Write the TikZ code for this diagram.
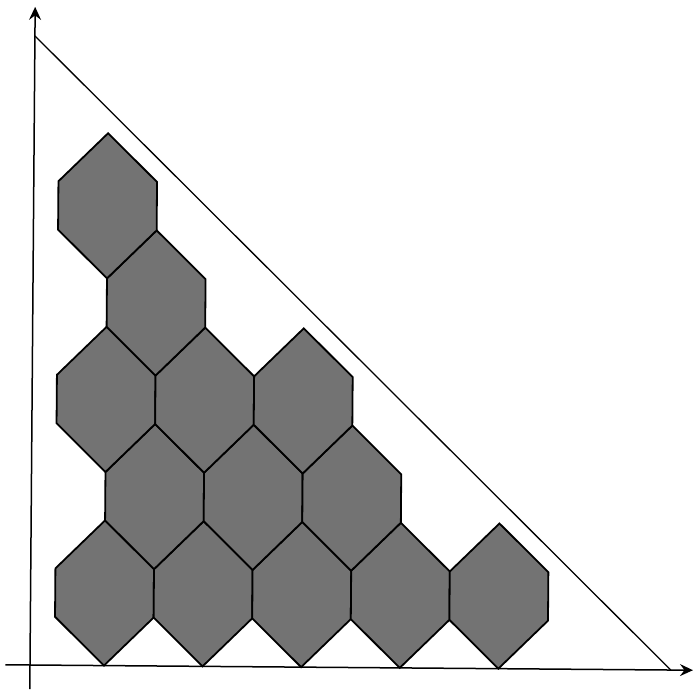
\documentclass[tikz,border=0pt]{standalone}
\usetikzlibrary{arrows.meta}
\tikzset{
  hexcell/.style={fill=black!55, draw=black, line width=1.8pt, line join=miter},
  axisline/.style={draw=black, line width=1.5pt, -{Stealth[length=13pt,width=12pt,inset=4.5pt]}},
  boundline/.style={draw=black, line width=1.3pt}
}
\begin{document}
\begin{tikzpicture}[x=1pt,y=1pt]
\useasboundingbox (0,0) rectangle (693,689);
\begin{scope}[shift={(30,24)}, rotate=-0.45, x=24.65pt, y=24.2pt]
  \coordinate (xstart) at (-1,0);
  \coordinate (xend) at (26.9,0);
  \coordinate (ystart) at (0,-1);
  \coordinate (yend) at (0,27.2);
  \coordinate (htop) at (0,26);
  \coordinate (hbot) at (26,0);
  \foreach \cx/\cy in {3/3,7/3,11/3,15/3,19/3,5/7,9/7,13/7,3/11,7/11,11/11,5/15,3/19}{
    \filldraw[hexcell] (\cx,\cy-3) -- ++(2,2) -- ++(0,2) -- ++(-2,2) -- ++(-2,-2) -- ++(0,-2) -- cycle;
  }
  \draw[boundline] (htop) -- (hbot);
  \draw[axisline] (xstart) -- (xend);
  \draw[axisline] (ystart) -- (yend);
\end{scope}
\end{tikzpicture}
\end{document}
